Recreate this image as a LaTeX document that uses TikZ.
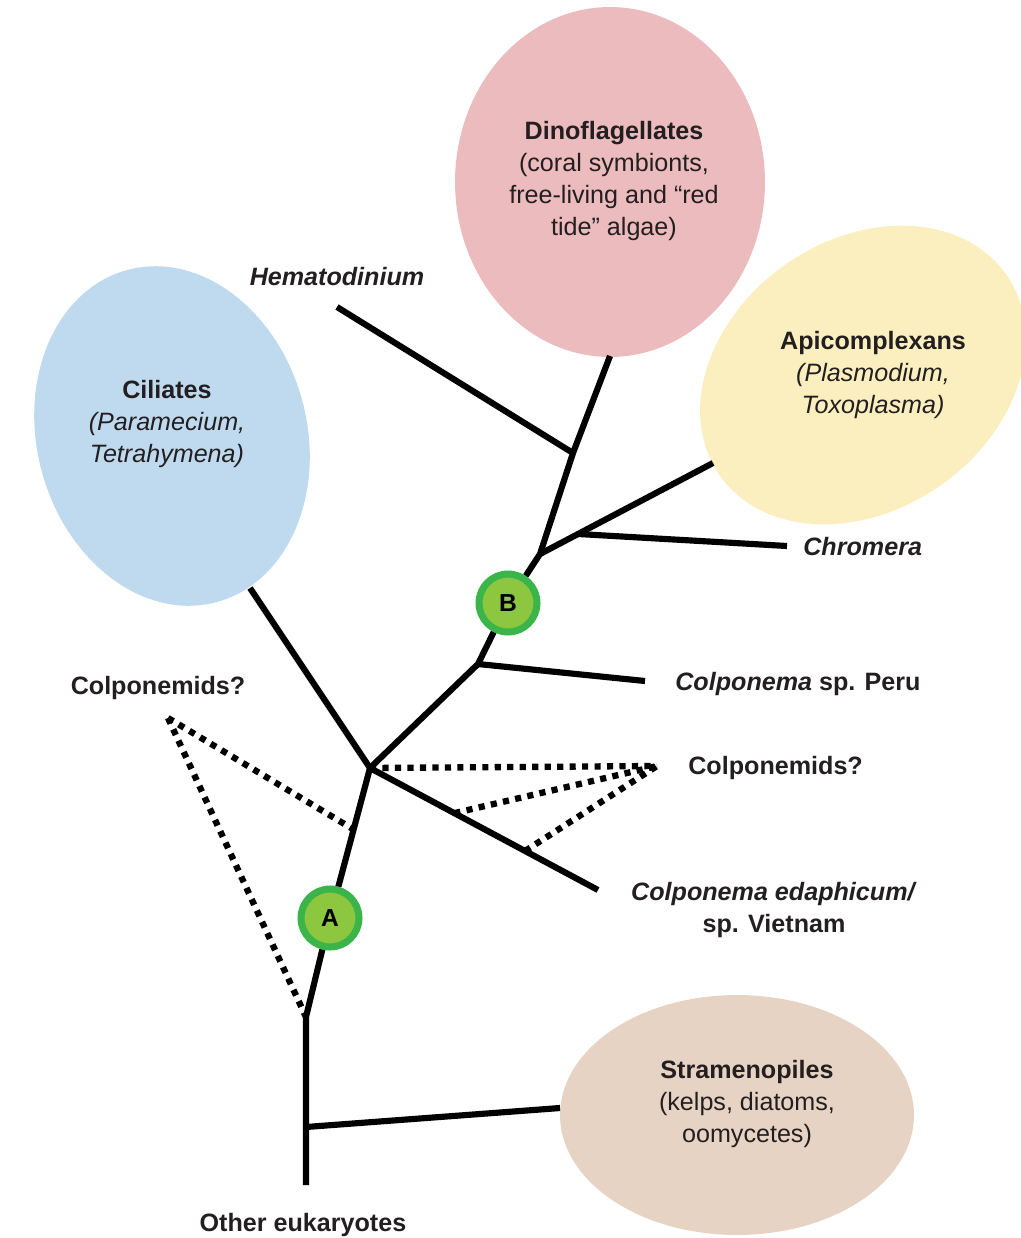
\documentclass[tikz,border=0pt]{standalone}
\usepackage{fontspec}
\setmainfont{Liberation Sans}
\usetikzlibrary{shapes.geometric,calc}
\definecolor{ciliblue}{HTML}{BFDAEE}
\definecolor{dinopink}{HTML}{EBBBBE}
\definecolor{apiyellow}{HTML}{FCEFBF}
\definecolor{stramtan}{HTML}{E7D3C4}
\definecolor{cladefill}{HTML}{8DC63F}
\definecolor{claderim}{HTML}{3BB54A}
\definecolor{ink}{HTML}{231F20}
\begin{document}
\begin{tikzpicture}[x=0.02cm, y=-0.02cm,
    blob/.style={ellipse, inner sep=0pt, draw=none},
    branch/.style={line width=3.5pt, line join=round},
    maybe/.style={line width=3.6pt, dash pattern=on 3.5pt off 3.6pt},
    clade/.style={circle, fill=cladefill, draw=claderim, line width=4pt, minimum size=1.16cm, inner sep=0pt, font=\fontsize{14}{16}\selectfont\bfseries},
    taxon/.style={text=ink, font=\fontsize{14.3}{18.1}\selectfont, align=center, inner sep=0pt}]
    \useasboundingbox (0,0) rectangle (1021,1238);
    \node[blob, fill=dinopink, minimum width=6.2cm, minimum height=7cm] (dino) at (610,182) {};
    \node[blob, fill=apiyellow, minimum width=7cm, minimum height=5.4cm, rotate=35] (api) at (863,375) {};
    \node[blob, fill=ciliblue, minimum width=5.4cm, minimum height=6.88cm, rotate=15] (cil) at (172,436) {};
    \node[blob, fill=stramtan, minimum width=7.08cm, minimum height=4.8cm] (stram) at (737,1115) {};
    \node[taxon] (dinoT) at (614,181) {\textbf{Dinoflagellates}\\(coral symbionts,\\free-living and “red\\tide” algae)};
    \node[taxon] (apiT) at (873,375) {\textbf{Apicomplexans}\\\textit{(Plasmodium,}\\\textit{Toxoplasma)}};
    \node[taxon] (cilT) at (167,424) {\textbf{Ciliates}\\\textit{(Paramecium,}\\\textit{Tetrahymena)}};
    \node[taxon] (stramT) at (747,1104) {\textbf{Stramenopiles}\\(kelps, diatoms,\\oomycetes)};
    \node[taxon, font=\fontsize{14.3}{18.1}\selectfont\bfseries\itshape] (hema) at (337,277) {Hematodinium};
    \node[taxon, anchor=west, font=\fontsize{14.3}{18.1}\selectfont\bfseries\itshape] (chrom) at (803,547) {Chromera};
    \node[taxon, anchor=west, font=\fontsize{14.3}{18.1}\selectfont\bfseries] (peru) at (675,684) {\textit{Colponema} sp. Peru};
    \node[taxon, anchor=west, font=\fontsize{14.3}{18.1}\selectfont\bfseries] (colpR) at (688,768) {Colponemids?};
    \node[taxon, font=\fontsize{14.3}{18.1}\selectfont\bfseries] (colpL) at (158,688) {Colponemids?};
    \node[taxon, font=\fontsize{14.3}{18.1}\selectfont\bfseries] (edaph) at (774,910) {\textit{Colponema edaphicum/}\\sp. Vietnam};
    \node[taxon, font=\fontsize{14.3}{18.1}\selectfont\bfseries] (other) at (303,1225) {Other eukaryotes};
    \node[clade] (A) at (330,918) {A};
    \node[clade] (B) at (508,603) {B};
    \coordinate (root) at (306,1185);
    \coordinate (J) at (306,1127);
    \coordinate (T) at (306,1017);
    \coordinate (X) at (370,768);
    \coordinate (P) at (478,664);
    \coordinate (Q) at (540,554);
    \coordinate (R) at (573,453);
    \coordinate (stramE) at (560,1108);
    \coordinate (cilE) at (250,588);
    \coordinate (edE) at (598,890);
    \coordinate (peruE) at (645,681);
    \coordinate (apiE) at (713,463);
    \coordinate (chromE) at (787,546);
    \coordinate (hemaE) at (337,307);
    \coordinate (dinoE) at (610,356);
    \coordinate (S) at ($(Q)!0.22!(apiE)$);
    \coordinate (lt) at (168,718);
    \coordinate (rt) at (657,766);
    \draw[branch] (root) -- (T) -- (A);
    \draw[branch] (A) -- (X) -- (P) -- (B);
    \draw[branch] (B) -- (Q) -- (R) -- (dinoE);
    \foreach \a/\b in {J/stramE, X/cilE, X/edE, P/peruE, Q/apiE, S/chromE, R/hemaE}
        \draw[branch] (\a) -- (\b);
    \draw[maybe] (lt) -- (T);
    \draw[maybe] (lt) -- ($(A)!0.59!(X)$);
    \draw[maybe] (X) -- (rt);
    \draw[maybe] ($(X)!0.37!(edE)$) -- (rt);
    \draw[maybe] ($(X)!0.68!(edE)$) -- (rt);
\end{tikzpicture}
\end{document}
